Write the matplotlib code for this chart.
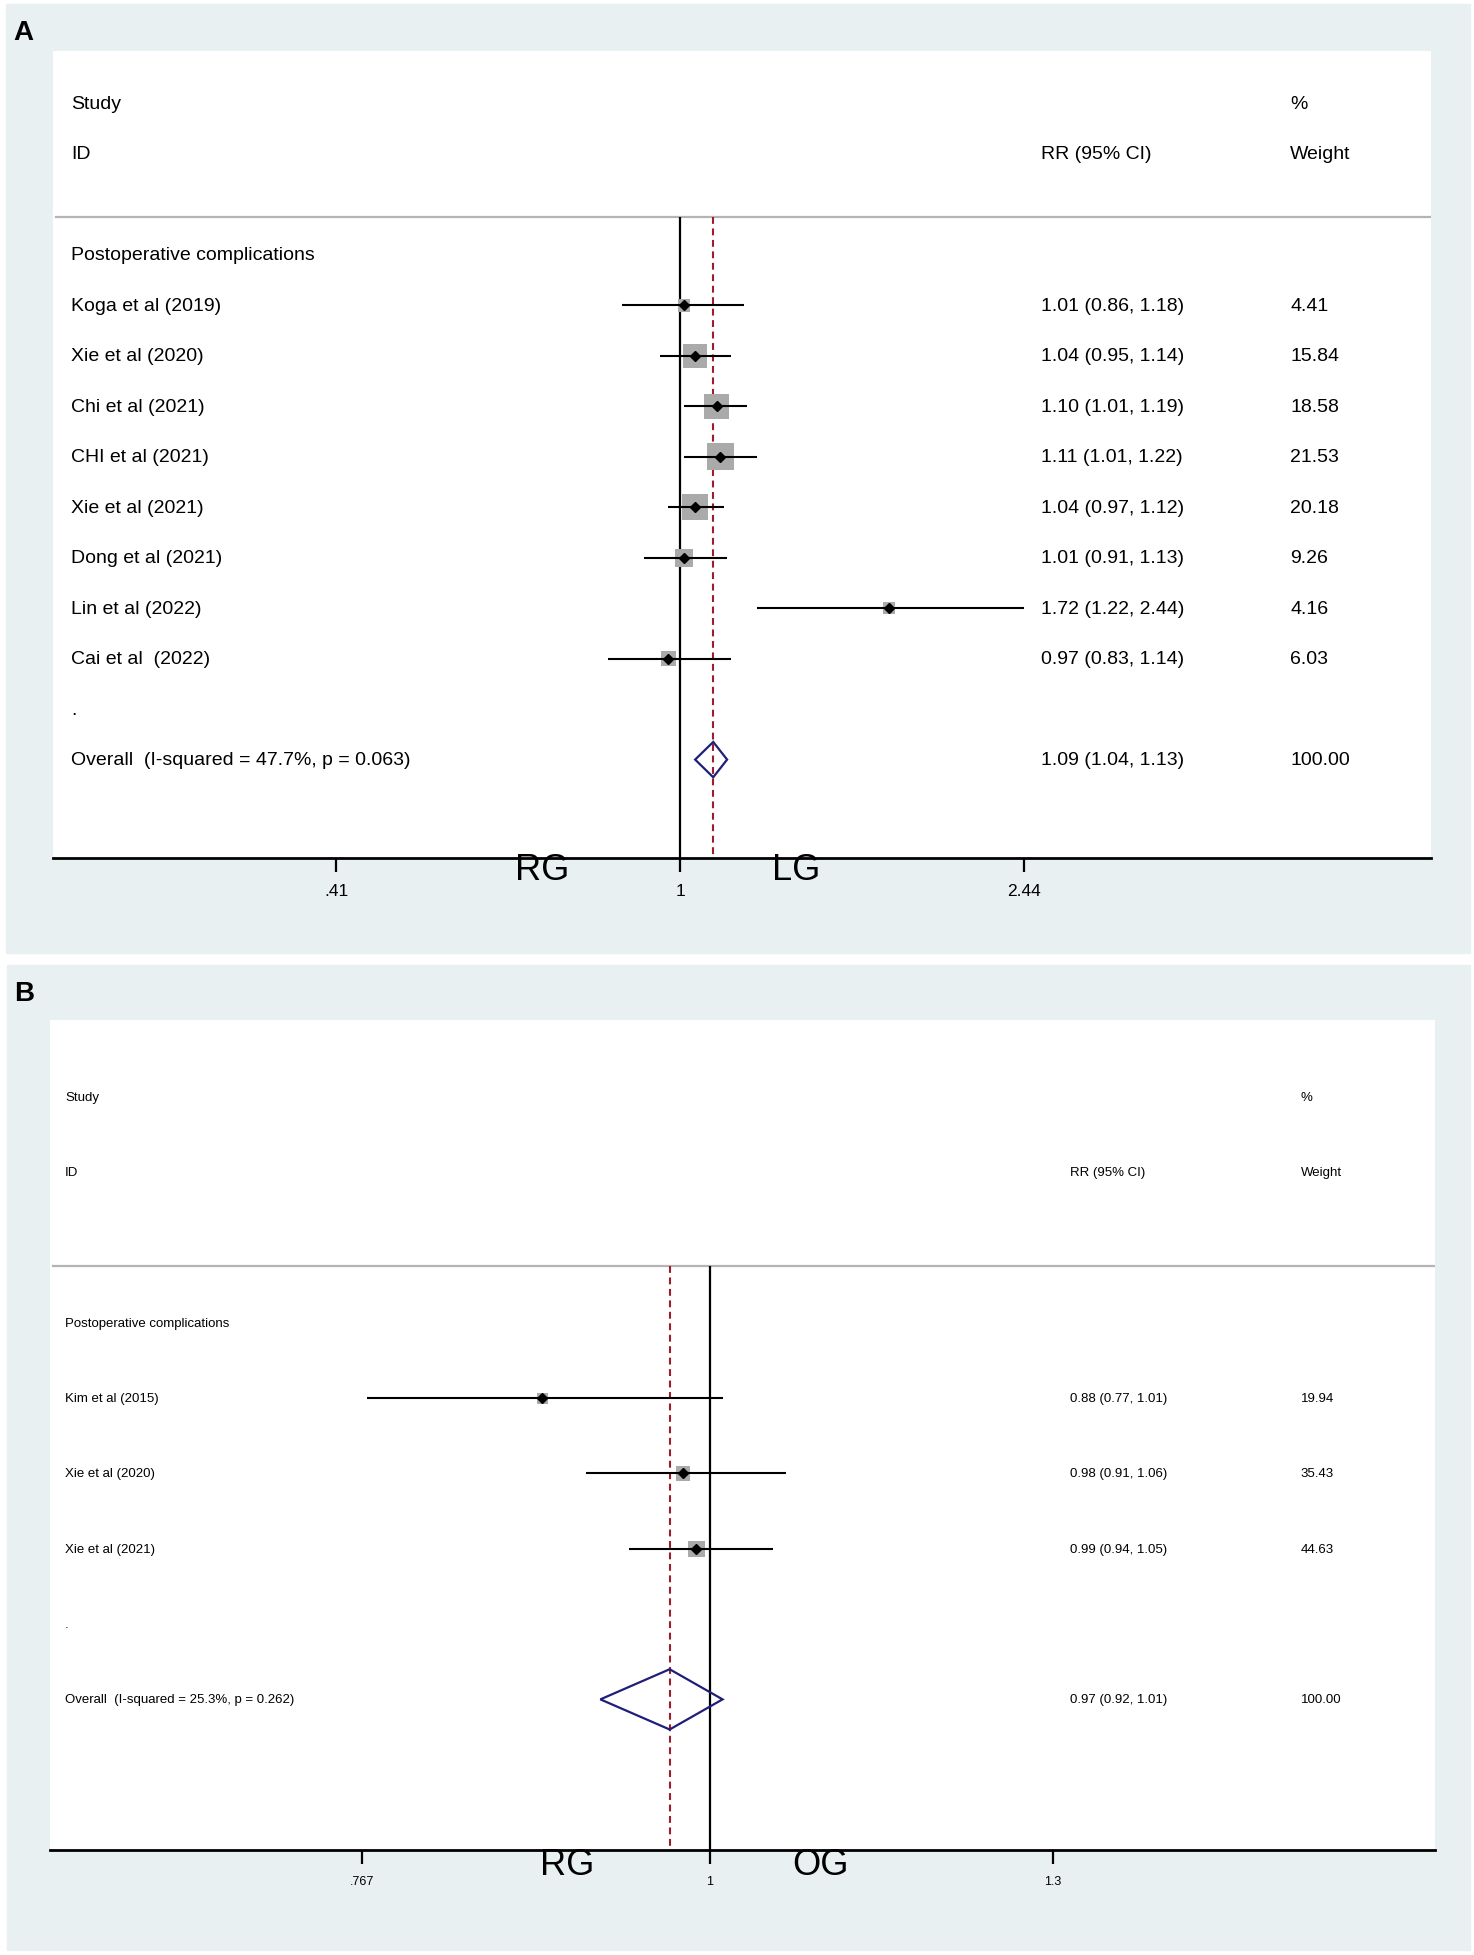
import numpy as np
import matplotlib
matplotlib.use("Agg")
import matplotlib.pyplot as plt
from matplotlib.patches import Rectangle
from matplotlib.transforms import blended_transform_factory

plt.rcParams['font.family'] = ['Liberation Sans', 'DejaVu Sans']

# ---- panel A data (RG vs LG) ----
a_studies = ['Koga et al (2019)', 'Xie et al (2020)', 'Chi et al (2021)', 'CHI et al (2021)',
             'Xie et al (2021)', 'Dong et al (2021)', 'Lin et al (2022)', 'Cai et al  (2022)']
a_rr = [1.01, 1.04, 1.10, 1.11, 1.04, 1.01, 1.72, 0.97]
a_lo = [0.86, 0.95, 1.01, 1.01, 0.97, 0.91, 1.22, 0.83]
a_hi = [1.18, 1.14, 1.19, 1.22, 1.12, 1.13, 2.44, 1.14]
a_weight = [4.41, 15.84, 18.58, 21.53, 20.18, 9.26, 4.16, 6.03]
a_overall = (1.09, 1.04, 1.13)
a_overall_label = 'Overall  (I-squared = 47.7%, p = 0.063)'
a_ticks = [0.41, 1, 2.44]
a_ticklabels = ['.41', '1', '2.44']
a_sides = ('RG', 'LG')

# ---- panel B data (RG vs OG) ----
b_studies = ['Kim et al (2015)', 'Xie et al (2020)', 'Xie et al (2021)']
b_rr = [0.88, 0.98, 0.99]
b_lo = [0.77, 0.91, 0.94]
b_hi = [1.01, 1.06, 1.05]
b_weight = [19.94, 35.43, 44.63]
b_overall = (0.97, 0.92, 1.01)
b_overall_label = 'Overall  (I-squared = 25.3%, p = 0.262)'
b_ticks = [0.767, 1, 1.3]
b_ticklabels = ['.767', '1', '1.3']
b_sides = ('RG', 'OG')

W, H = 1474, 1956
fig = plt.figure(figsize=(W / 100, H / 100), dpi=100)
fig.patch.set_facecolor('white')

BG = '#e9f0f2'
NAVY = '#1f1f78'
RED = '#9e1c2b'
BOX = '#aaaaaa'


def fx(px):
    return px / W


def fy(py):
    return 1 - py / H


def forest(box, white, label, studies, rr, lo, hi, weight, overall, overall_label,
           ticks, ticklabels, sides, xlim, ylim, cols, fs, tfs, box_k, dia_h, side_pos):
    # gray panel background
    x0, y0, x1, y1 = box
    fig.patches.append(Rectangle((fx(x0), fy(y1)), fx(x1 - x0), (y1 - y0) / H,
                                 transform=fig.transFigure, color=BG, zorder=-5))
    fig.text(fx(x0 + 7), fy(y0 + 28), label, fontsize=20, fontweight='bold', va='center')

    wx0, wy0, wx1, wy1 = white
    ax = fig.add_axes([fx(wx0), fy(wy1), fx(wx1 - wx0), (wy1 - wy0) / H])
    ax.set_facecolor('white')
    ax.set_xscale('log')
    ax.set_xlim(*xlim)
    ax.set_ylim(*ylim)
    for s in ['top', 'left', 'right']:
        ax.spines[s].set_visible(False)
    ax.spines['bottom'].set_linewidth(2.0)
    ax.set_yticks([])
    ax.set_xticks(ticks)
    ax.set_xticklabels(ticklabels)
    ax.minorticks_off()
    ax.tick_params(axis='x', direction='out', length=10, width=1.6, pad=8, labelsize=tfs)

    tr = blended_transform_factory(ax.transAxes, ax.transData)
    n = len(studies)
    rows = np.arange(1, n + 1)
    hdr = -0.755

    ax.axhline(hdr, xmin=0.002, xmax=1, color='#b4b4b4', lw=1.6)
    ax.vlines(1, hdr, ylim[0], color='black', lw=1.6, zorder=2)
    ax.vlines(overall[0], hdr, ylim[0], color=RED, lw=1.5, linestyles=(0, (3.3, 2.2)), zorder=2)

    # study estimates
    ax.scatter(rr, rows, s=(box_k * np.sqrt(weight)) ** 2, marker='s', color=BOX,
               linewidths=0, zorder=3)
    ax.hlines(rows, lo, hi, color='black', lw=1.5, zorder=4)
    ax.plot(rr, rows, linestyle='none', marker='D', markersize=5, color='black', zorder=5)

    # pooled diamond
    est, olo, ohi = overall
    orow = n + 2
    ax.fill([olo, est, ohi, est, olo], [orow, orow - dia_h, orow, orow + dia_h, orow],
            facecolor='none', edgecolor=NAVY, lw=1.6, zorder=5)

    # text columns
    cx_id, cx_rr, cx_w = cols
    ax.text(cx_id, -3, 'Study', transform=tr, fontsize=fs, va='center')
    ax.text(cx_id, -2, 'ID', transform=tr, fontsize=fs, va='center')
    ax.text(cx_rr, -2, 'RR (95% CI)', transform=tr, fontsize=fs, va='center')
    ax.text(cx_w, -3, '%', transform=tr, fontsize=fs, va='center')
    ax.text(cx_w, -2, 'Weight', transform=tr, fontsize=fs, va='center')
    ax.text(cx_id, 0, 'Postoperative complications', transform=tr, fontsize=fs, va='center')
    for r, name, e, l, h, w in zip(rows, studies, rr, lo, hi, weight):
        ax.text(cx_id, r, name, transform=tr, fontsize=fs, va='center')
        ax.text(cx_rr, r, f'{e:.2f} ({l:.2f}, {h:.2f})', transform=tr, fontsize=fs, va='center')
        ax.text(cx_w, r, f'{w:.2f}', transform=tr, fontsize=fs, va='center')
    ax.text(cx_id, n + 1, '.', transform=tr, fontsize=fs, va='center')
    ax.text(cx_id, orow, overall_label, transform=tr, fontsize=fs, va='center')
    ax.text(cx_rr, orow, f'{est:.2f} ({olo:.2f}, {ohi:.2f})', transform=tr, fontsize=fs, va='center')
    ax.text(cx_w, orow, '100.00', transform=tr, fontsize=fs, va='center')

    # side labels under the axis
    (lx, ly), (rx, ry) = side_pos
    fig.text(fx(lx), fy(ly), sides[0], fontsize=26, ha='center', va='center')
    fig.text(fx(rx), fy(ry), sides[1], fontsize=26, ha='center', va='center')
    return ax


forest(box=(6, 5, 1470, 954), white=(53, 52, 1431, 859), label='A',
       studies=a_studies, rr=a_rr, lo=a_lo, hi=a_hi, weight=a_weight,
       overall=a_overall, overall_label=a_overall_label,
       ticks=a_ticks, ticklabels=a_ticklabels, sides=a_sides,
       xlim=(0.1965, 7.02), ylim=(11.95, -4.04),
       cols=(0.0131, 0.717, 0.8977), fs=14, tfs=12.5, box_k=4.25, dia_h=0.35,
       side_pos=((542, 871), (796, 871)))

forest(box=(7, 966, 1470, 1951), white=(50, 1021, 1435, 1851), label='B',
       studies=b_studies, rr=b_rr, lo=b_lo, hi=b_hi, weight=b_weight,
       overall=b_overall, overall_label=b_overall_label,
       ticks=b_ticks, ticklabels=b_ticklabels, sides=b_sides,
       xlim=(0.6042, 1.7406), ylim=(7.0, -4.02),
       cols=(0.0108, 0.7365, 0.9032), fs=9.5, tfs=9, box_k=1.76, dia_h=0.40,
       side_pos=((567, 1866), (821, 1866)))

fig.savefig('out.png', dpi=100)
